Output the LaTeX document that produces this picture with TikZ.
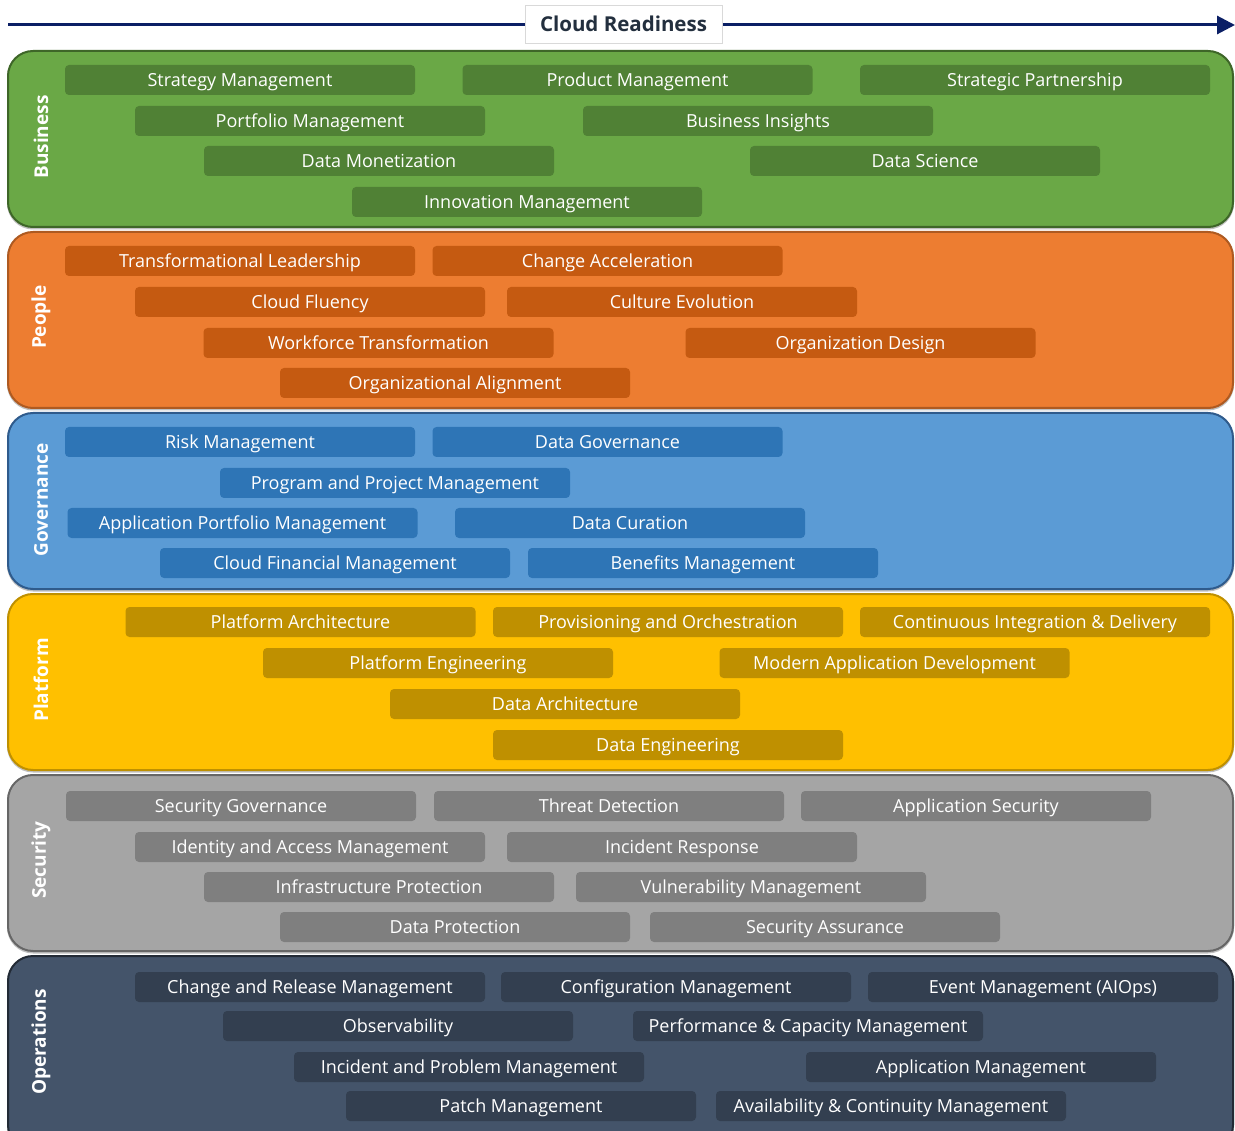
\documentclass[tikz,border=0pt]{standalone}
\usepackage{fontspec}
\setmainfont{Open Sans}
\usetikzlibrary{arrows.meta}
\definecolor{arrowblue}{HTML}{0B1F65}
\definecolor{titletext}{HTML}{232F3E}
\definecolor{bizpanel}{HTML}{6AA846}
\definecolor{bizbox}{HTML}{508135}
\definecolor{bizline}{HTML}{3E6628}
\definecolor{peopanel}{HTML}{ED7D31}
\definecolor{peobox}{HTML}{C55A11}
\definecolor{peoline}{HTML}{AE5A21}
\definecolor{govpanel}{HTML}{5B9BD5}
\definecolor{govbox}{HTML}{2E75B6}
\definecolor{govline}{HTML}{2F5B8C}
\definecolor{platpanel}{HTML}{FFC000}
\definecolor{platbox}{HTML}{BF9000}
\definecolor{platline}{HTML}{BF9000}
\definecolor{secpanel}{HTML}{A5A5A5}
\definecolor{secbox}{HTML}{7F7F7F}
\definecolor{secline}{HTML}{666666}
\definecolor{opspanel}{HTML}{44546A}
\definecolor{opsbox}{HTML}{333F50}
\definecolor{opsline}{HTML}{222A35}
\tikzset{
  panel/.style={rounded corners=25pt, line width=2pt},
  shadowline/.style={rounded corners=25pt, line width=2pt, draw=black!25},
  capbox/.style={rounded corners=4pt, minimum width=350pt, minimum height=30pt,
    inner sep=0pt, text height=12.8pt, text depth=0pt, text=white,
    font=\fontsize{18}{21}\selectfont},
  sidelabel/.style={rotate=90, text=white, font=\fontsize{19}{22}\selectfont\bfseries},
}
\begin{document}
\begin{tikzpicture}[x=1pt,y=-1pt]
\useasboundingbox (0,0) rectangle (1235,1131);
\begin{scope}
\clip (0,0) rectangle (1235,1131);
% arrow
\coordinate (arrS) at (8,25);
\coordinate (arrE) at (1235,25);
\draw[arrowblue, line width=3pt, -{Triangle[length=18pt,width=18pt]}] (arrS) -- (arrE);
\node[fill=white, draw=black!15, line width=0.6pt, minimum width=197pt, minimum height=38pt,
  text=titletext, font=\fontsize{20.5}{24}\selectfont\bfseries] (title) at (623.5,24) {Cloud Readiness};

% panels
\foreach \ya/\yb/\pc/\lc in {51/227/bizpanel/bizline, 232/408/peopanel/peoline,
  413/589/govpanel/govline, 594/770/platpanel/platline, 775/951/secpanel/secline,
  956/1150/opspanel/opsline}{
  \draw[shadowline] (8,\ya+1.5) rectangle (1233,\yb+1.5);
  \draw[panel, fill=\pc, draw=\lc] (8,\ya) rectangle (1233,\yb);
}

% side labels
\node[sidelabel] (lbiz) at (41,137) {Business};
\node[sidelabel] (lpeo) at (41,317) {People};
\node[sidelabel] (lgov) at (41,500) {Governance};
\node[sidelabel] (lplat) at (41,680) {Platform};
\node[sidelabel] (lsec) at (41,860) {Security};
\node[sidelabel] (lops) at (41,1042) {Operations};

% Business
\begin{scope}[every node/.style={capbox, fill=bizbox}]
\node (b1) at (240,80) {Strategy Management};
\node (b2) at (637.5,80) {Product Management};
\node (b3) at (1035,80) {Strategic Partnership};
\node (b4) at (310,121) {Portfolio Management};
\node (b5) at (758,121) {Business Insights};
\node (b6) at (379,161) {Data Monetization};
\node (b7) at (925,161) {Data Science};
\node (b8) at (527,202) {Innovation Management};
\end{scope}

% People
\begin{scope}[every node/.style={capbox, fill=peobox}]
\node (p1) at (240,261) {Transformational Leadership};
\node (p2) at (607.5,261) {Change Acceleration};
\node (p3) at (310,302) {Cloud Fluency};
\node (p4) at (682,302) {Culture Evolution};
\node (p5) at (378.5,343) {Workforce Transformation};
\node (p6) at (860.5,343) {Organization Design};
\node (p7) at (455,383) {Organizational Alignment};
\end{scope}

% Governance
\begin{scope}[every node/.style={capbox, fill=govbox}]
\node (g1) at (240,442) {Risk Management};
\node (g2) at (607.5,442) {Data Governance};
\node (g3) at (395,483) {Program and Project Management};
\node (g4) at (242.5,523) {Application Portfolio Management};
\node (g5) at (630,523) {Data Curation};
\node (g6) at (335,563) {Cloud Financial Management};
\node (g7) at (703,563) {Benefits Management};
\end{scope}

% Platform
\begin{scope}[every node/.style={capbox, fill=platbox}]
\node (l1) at (300.5,622) {Platform Architecture};
\node (l2) at (668,622) {Provisioning and Orchestration};
\node (l3) at (1035,622) {Continuous Integration \& Delivery};
\node (l4) at (438,663) {Platform Engineering};
\node (l5) at (894.5,663) {Modern Application Development};
\node (l6) at (565,704) {Data Architecture};
\node (l7) at (668,745) {Data Engineering};
\end{scope}

% Security
\begin{scope}[every node/.style={capbox, fill=secbox}]
\node (s1) at (241,806) {Security Governance};
\node (s2) at (609,806) {Threat Detection};
\node (s3) at (976,806) {Application Security};
\node (s4) at (310,847) {Identity and Access Management};
\node (s5) at (682,847) {Incident Response};
\node (s6) at (379,887) {Infrastructure Protection};
\node (s7) at (751,887) {Vulnerability Management};
\node (s8) at (455,927) {Data Protection};
\node (s9) at (825,927) {Security Assurance};
\end{scope}

% Operations
\begin{scope}[every node/.style={capbox, fill=opsbox}]
\node (o1) at (310,987) {Change and Release Management};
\node (o2) at (676,987) {Configuration Management};
\node (o3) at (1043,987) {Event Management (AIOps)};
\node (o4) at (398,1026) {Observability};
\node (o5) at (808,1026) {Performance \& Capacity Management};
\node (o6) at (469,1067) {Incident and Problem Management};
\node (o7) at (981,1067) {Application Management};
\node (o8) at (521,1106) {Patch Management};
\node (o9) at (891,1106) {Availability \& Continuity Management};
\end{scope}
\end{scope}
\end{tikzpicture}
\end{document}
